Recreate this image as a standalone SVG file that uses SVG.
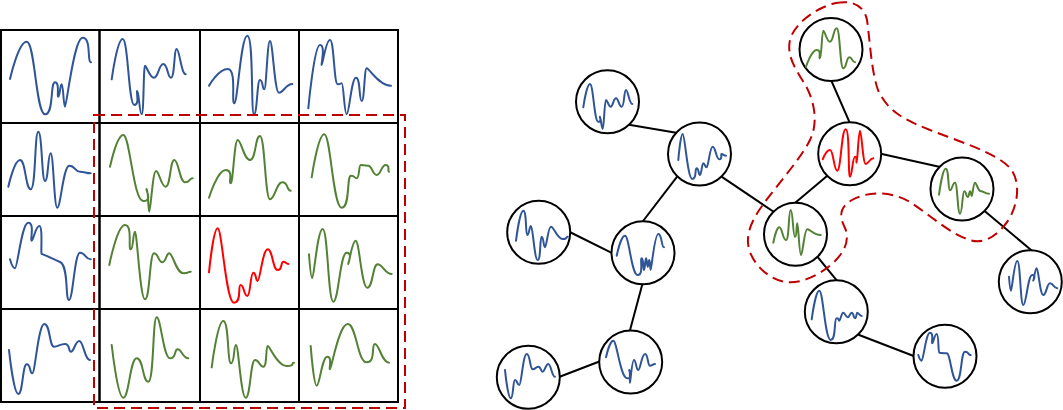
<svg xmlns="http://www.w3.org/2000/svg" width="1063" height="410" viewBox="0 0 1063 410">
<style>
.cell{fill:none;stroke:#000;stroke-width:2}
.w{fill:none;stroke-width:2;stroke-linecap:round;stroke-linejoin:round}
.b{stroke:#2F5597}
.g{stroke:#538135}
.r{stroke:#FF0000}
.node{fill:#fff;stroke:#000;stroke-width:2}
.edge{stroke:#000;stroke-width:2}
.sel{fill:none;stroke:#C00000;stroke-width:2;stroke-dasharray:11 6}
</style>
<rect width="1063" height="410" fill="#fff"/>
<g id="grid">
<g id="cell-0-0"><rect class="cell" x="1" y="30" width="98.5" height="93"/><path class="w b" d="M10,79 S18.4,41.7 26.7,41.7 S35.9,114.3 45,114.3 S50,82.3 55,82.3 S56.7,96.7 58.3,96.7 S60,84.3 61.7,84.3 S63.4,106.7 65,106.7 S73.9,37.7 82.7,37.7 S86.9,62.3 91,62.3"/></g>
<g id="cell-0-1"><rect class="cell" x="99.5" y="30" width="100.5" height="93"/><path class="w b" d="M111.7,79.3 S117.2,39 122.7,39 S128.5,105 134.3,105 S135.8,91 137.3,91 S139.5,114.3 141.7,114.3 S143.4,65.7 145,65.7 S149.5,77.7 154,77.7 S158.7,64 163.3,64 S167.2,77.7 171,77.7 S173.9,49 176.7,49 S181.2,74.3 185.7,74.3"/></g>
<g id="cell-0-2"><rect class="cell" x="200" y="30" width="99" height="93"/><path class="w b" d="M209,85.7 S218.4,69 227.7,69 S231,103.3 234.3,103.3 S240.8,35.7 247.3,35.7 S250.7,114.3 254,114.3 S257,80 260,80 S262.2,89.3 264.3,89.3 S267.2,41 270,41 S274.5,92.7 279,92.7 S285.7,84 292.3,84"/></g>
<g id="cell-0-3"><rect class="cell" x="299" y="30" width="99" height="93"/><path class="w b" d="M308.3,108.3 S314.2,45 320,45 S320.9,65 321.7,65 S325.9,40 330,40 S333.9,84.3 337.7,84.3 S339.7,83.3 341.7,83.3 S344.2,114.3 346.7,114.3 S351.4,77.7 356,77.7 S358.9,101 361.7,101 S364.2,68.3 366.7,68.3 S378.9,85.7 391,85.7"/></g>
<g id="cell-1-0"><rect class="cell" x="1" y="123" width="98.5" height="93"/><path class="w b" d="M8.3,186.7 S14.2,160 20,160 S25.4,189.3 30.7,189.3 S34.5,131.7 38.3,131.7 S41.7,181 45,181 S47.9,153.3 50.7,153.3 S54,207.7 57.3,207.7 S63.3,165.7 69.3,165.7 S74.7,171.7 80,171.7 S85.4,173.3 90.7,173.3"/></g>
<g id="cell-1-1"><rect class="cell" x="99.5" y="123" width="100.5" height="93"/><path class="w g" d="M110,166.7 S116.7,135 123.3,135 S133.3,201 143.3,201 S145,189 146.7,189 S148,211.7 149.3,211.7 S152.7,171 156,171 S160.9,186.7 165.7,186.7 S170,160 174.3,160 S179.7,182.3 185,182.3 S188.9,178.3 192.7,178.3"/></g>
<g id="cell-1-2"><rect class="cell" x="200" y="123" width="99" height="93"/><path class="w g" d="M209,197.7 S217.4,170 225.7,170 S228.2,183.3 230.7,183.3 S234.2,140 237.7,140 S243.9,160 250,160 S255,136 260,136 S265,199.3 270,199.3 S276.2,182.3 282.3,182.3 S286.5,190.7 290.7,190.7"/></g>
<g id="cell-1-3"><rect class="cell" x="299" y="123" width="99" height="93"/><path class="w g" d="M311.7,177.3 S318,134.3 324.3,134.3 S333,207.7 341.7,207.7 S346.4,175.7 351,175.7 S353.9,178.3 356.7,178.3 S358.7,165 360.7,165 S364.5,165.7 368.3,165.7 S372.5,175 376.7,175 S381.2,165 385.7,165 S387.4,171.7 389,171.7"/></g>
<g id="cell-2-0"><rect class="cell" x="1" y="216" width="98.5" height="93"/><path class="w b" d="M10,259.3 S12.5,268.3 15,268.3 S21.7,222.7 28.3,222.7 S30,240.7 31.7,240.7 S35.5,226 39.3,226 S40.5,254 41.7,254 S51,258 60,262 S65,300 69,300 S74.5,252.7 80,252.7 S85.4,259.3 90.7,259.3"/></g>
<g id="cell-2-1"><rect class="cell" x="99.5" y="216" width="100.5" height="93"/><path class="w g" d="M109.3,265 S117.2,225 125,225 S127.9,249.3 130.7,249.3 S132.9,231.7 135,231.7 S140,299.3 145,299.3 S149.5,253.3 154,253.3 S158.2,262.3 162.3,262.3 S165.8,253.3 169.3,253.3 S176.3,273.3 183.3,273.3 S187,271.7 190.7,271.7"/></g>
<g id="cell-2-2"><rect class="cell" x="200" y="216" width="99" height="93"/><path class="w r" d="M209,272.3 S213.4,228.3 217.7,228.3 S225.9,302.7 234,302.7 S237.4,285 240.7,285 S244,296 247.3,296 S250.3,272.7 253.3,272.7 S255.5,281 257.7,281 S262.7,249.3 267.7,249.3 S272.7,270 277.7,270 S280.5,261.7 283.3,261.7 S285.8,264 288.3,264"/></g>
<g id="cell-2-3"><rect class="cell" x="299" y="216" width="99" height="93"/><path class="w g" d="M309,254.3 S310.7,278.3 312.3,278.3 S317.5,229 322.7,229 S328,301.7 333.3,301.7 S340,252.7 346.7,252.7 S347.5,264 348.3,264 S352,240.7 355.7,240.7 S361.5,287.7 367.3,287.7 S372.5,264.3 377.7,264.3 S384.7,274 391.7,274"/></g>
<g id="cell-3-0"><rect class="cell" x="1" y="309" width="98.5" height="93"/><path class="w b" d="M9,350 S13.7,394 18.3,394 S22.5,364.3 26.7,364.3 S29.5,373.3 32.3,373.3 S38.3,324 44.3,324 S49.2,346.7 54,346.7 S59.5,344 65,344 S68,351.7 71,351.7 S75.2,341 79.3,341 S84.7,360 90,360"/></g>
<g id="cell-3-1"><rect class="cell" x="99.5" y="309" width="100.5" height="93"/><path class="w g" d="M111.7,345 S117.5,397.7 123.3,397.7 S130,358.3 136.7,358.3 S142.5,381.7 148.3,381.7 S152.5,317.3 156.7,317.3 S163.4,358.3 170,358.3 S173.9,349.3 177.7,349.3 S183,358.3 188.3,358.3"/></g>
<g id="cell-3-2"><rect class="cell" x="200" y="309" width="99" height="93"/><path class="w g" d="M211.7,367.3 S217.5,321 223.3,321 S227.2,363.3 231,363.3 S233.5,345 236,345 S240.9,397.7 245.7,397.7 S250.4,360 255,360 S259.2,366.7 263.3,366.7 S265.5,346 267.7,346 S277.2,366 286.7,366 S290.4,362.7 294,362.7"/></g>
<g id="cell-3-3"><rect class="cell" x="299" y="309" width="99" height="93"/><path class="w g" d="M310.7,346 S313.7,385.7 316.7,385.7 S322,356.7 327.3,356.7 S328.7,369.3 330,369.3 S338.9,324 347.7,324 S357.2,362.3 366.7,362.3 S370.9,344 375,344 S382,362.7 389,362.7"/></g>
<rect id="grid-selection" class="sel" x="94" y="115" width="311" height="293"/>
</g>
<g id="connectors">
<line class="edge" x1="629" y1="124.8" x2="677.7" y2="132.9"/>
<line class="edge" x1="677.3" y1="176.3" x2="642.7" y2="221.5"/>
<line class="edge" x1="721.5" y1="176.7" x2="774" y2="212"/>
<line class="edge" x1="569.7" y1="232" x2="611.7" y2="252.8"/>
<line class="edge" x1="642.4" y1="284" x2="629.8" y2="331"/>
<line class="edge" x1="600" y1="361.3" x2="559" y2="377"/>
<line class="edge" x1="831.3" y1="80.7" x2="849.7" y2="122.7"/>
<line class="edge" x1="880.7" y1="153.8" x2="940.3" y2="167"/>
<line class="edge" x1="827.3" y1="175.8" x2="794.4" y2="203.5"/>
<line class="edge" x1="984.3" y1="210.8" x2="1032.3" y2="251"/>
<line class="edge" x1="816.7" y1="255.8" x2="836.7" y2="280.3"/>
<line class="edge" x1="858.5" y1="334.7" x2="914.3" y2="356.3"/>
</g>
<path id="graph-selection" class="sel" d="M836,3 C852,0 864,5 867,20 C870,40 871,70 878,90 C888,112 905,120 930,130 C960,142 995,152 1010,168 C1022,182 1018,210 1004,226 C994,238 982,244 970,240 C950,234 930,215 910,202 C893,192 870,190 852,200 C838,208 840,218 845,228 C850,240 845,252 832,264 C818,276 800,284 786,282 C770,280 755,266 750,252 C744,236 752,220 762,206 C776,186 800,160 810,140 C818,124 815,104 807,88 C798,72 786,58 790,40 C794,24 815,8 836,3 Z"/>
<g id="n1"><circle class="node" cx="607.5" cy="101.7" r="31.5"/><path class="w b" d="M583.3,107.3 S586.7,84 590,84 S594.2,121.7 598.3,121.7 S599.2,116.7 600,116.7 S601.4,129 602.7,129 S604.4,100 606,100 S608.4,106.7 610.7,106.7 S613.4,98.3 616,98.3 S618.9,106.7 621.7,106.7 S623.9,90 626,90 S629.2,104 632.3,104"/></g>
<g id="n2"><circle class="node" cx="699.5" cy="154" r="31.5"/><path class="w b" d="M678.3,160 S680.5,134 682.7,134 S687.5,179 692.3,179 S694.5,168.3 696.7,168.3 S698.4,175 700,175 S701.7,163.3 703.3,163.3 S705,167.3 706.7,167.3 S709.7,146.7 712.7,146.7 S716,159.3 719.3,159.3 S720.5,154 721.7,154 S723.9,155.7 726,155.7"/></g>
<g id="n3"><circle class="node" cx="538.7" cy="232.3" r="31.5"/><path class="w b" d="M516,240.7 S519.7,210.7 523.3,210.7 S525.3,235 527.3,235 S529.2,226 531,226 S534.4,260 537.7,260 S539.7,236.7 541.7,236.7 S543.4,247.3 545,247.3 S548,226.7 551,226.7 S556.9,239 562.7,239 S565.2,236.7 567.7,236.7"/></g>
<g id="n4"><circle class="node" cx="643" cy="252.8" r="31.5"/><path class="w b" d="M616.7,255.7 S620.9,235.7 625,235.7 S631.4,275 637.7,275 S639.7,258.3 641.7,258.3 S642.9,270 644,270 S645,258.3 646,258.3 S646.9,266.7 647.7,266.7 S648.5,260 649.3,260 S650,270 650.7,270 S654.5,234 658.3,234 S661.2,247.3 664,247.3"/></g>
<g id="n5"><circle class="node" cx="630.7" cy="362" r="31.5"/><path class="w b" d="M606,357.3 S609.7,340.7 613.3,340.7 S620.3,378.3 627.3,378.3 S628.3,370 629.3,370 S629.7,382.7 630,382.7 S632,360 634,360 S636.2,370 638.3,370 S641.7,354 645,354 S647.5,365.7 650,365.7 S652.5,364 655,364"/></g>
<g id="n6"><circle class="node" cx="528.3" cy="377.3" r="31.5"/><path class="w b" d="M505,370 S507.9,398.3 510.7,398.3 S512.9,380 515,380 S517.2,385 519.3,385 S523,354 526.7,354 S529.7,369.3 532.7,369.3 S535.5,366.7 538.3,366.7 S540.5,371.7 542.7,371.7 S545.5,364 548.3,364 S551.7,376.7 555,376.7"/></g>
<g id="n7"><circle class="node" cx="831" cy="49.5" r="31.5"/><path class="w g" d="M806,66.7 S811.4,50 816.7,50 S818.4,58.3 820,58.3 S821.7,30.7 823.3,30.7 S826.7,41.7 830,41.7 S833.4,28.3 836.7,28.3 S840,68.3 843.3,68.3 S846.3,57.3 849.3,57.3 S852.2,62.3 855,62.3"/></g>
<g id="n8"><circle class="node" cx="849.7" cy="153.8" r="31.5"/><path class="w r" d="M822.7,159.3 S826.4,150 830,150 S833.7,170.7 837.3,170.7 S841.5,129.3 845.7,129.3 S847.9,176.7 850,176.7 S852.5,156.7 855,156.7 S855.9,162.7 856.7,162.7 S858.4,130.7 860,130.7 S862.9,164 865.7,164 S869.5,158.3 873.3,158.3"/></g>
<g id="n9"><circle class="node" cx="962" cy="189" r="31.5"/><path class="w g" d="M939,194.7 S942.4,168.7 945.7,168.7 S947.9,190.3 950,190.3 S952.5,182.7 955,182.7 S957.5,213.7 960,213.7 S962.2,191.3 964.3,191.3 S966,197 967.7,197 S968.9,191.3 970,191.3 S970.9,196 971.7,196 S973.4,182.7 975,182.7 S978,191.3 981,191.3 S985,193.7 989,193.7"/></g>
<g id="n10"><circle class="node" cx="795.5" cy="234.3" r="31.5"/><path class="w g" d="M773.3,242.7 S776.3,227.3 779.3,227.3 S782.7,240 786,240 S788.4,210 790.7,210 S792.9,237 795,237 S796.2,223.3 797.3,223.3 S799.2,255 801,255 S804.2,229.3 807.3,229.3 S813.5,235 820.7,235"/></g>
<g id="n11"><circle class="node" cx="836.3" cy="311.7" r="31.5"/><path class="w b" d="M811.7,319.3 S815.5,290.7 819.3,290.7 S825,340 830.7,340 S833.7,318.3 836.7,318.3 S838,320.7 839.3,320.7 S841.3,312.7 843.3,312.7 S845.5,317.3 847.7,317.3 S849.7,312.7 851.7,312.7 S853.4,318.3 855,318.3 S856.2,312.7 857.3,312.7 S859.5,316 861.7,316"/></g>
<g id="n12"><circle class="node" cx="1030.3" cy="281.7" r="31.5"/><path class="w b" d="M1009,276.7 S1010,290.7 1011,290.7 S1014.2,261 1017.3,261 S1020.3,305 1023.3,305 S1027.8,275 1032.3,275 S1032.8,280.7 1033.3,280.7 S1035,268.3 1036.7,268.3 S1040,295 1043.3,295 S1046.7,283.3 1050,283.3 S1053.7,288.3 1057.3,288.3"/></g>
<g id="n13"><circle class="node" cx="945" cy="356.3" r="31.5"/><path class="w b" d="M918.3,355 S920,360.7 921.7,360.7 S925.9,332.7 930,332.7 S931.2,343.3 932.3,343.3 S934.5,334 936.7,334 S938,352.7 939.3,352.7 S943,353.3 946.7,353.3 S951.7,380.7 956.7,380.7 S960.9,351.7 965,351.7 S967.9,355 970.7,355"/></g>
</svg>
